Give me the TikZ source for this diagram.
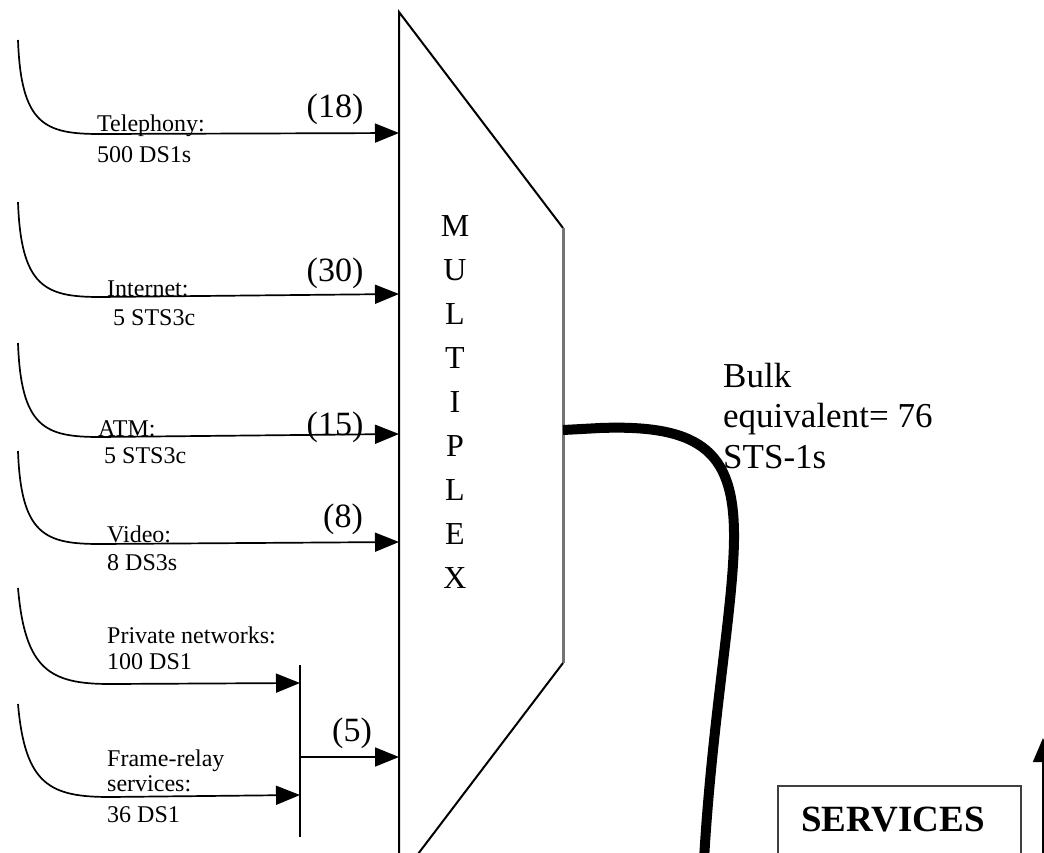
\documentclass[tikz,border=0pt]{standalone}
\usepackage{fontspec}
\setmainfont{Liberation Serif}
\usetikzlibrary{arrows.meta}
\tikzset{
  feed/.style={line width=1.7pt, -{Triangle[length=24pt,width=19pt]}},
  lbl/.style={anchor=base west, inner sep=0pt, font=\fontsize{24}{28}\selectfont},
  cnt/.style={inner sep=0pt, font=\fontsize{34}{38}\selectfont},
  muxletter/.style={inner sep=0pt, font=\fontsize{32}{36}\selectfont},
  muxedge/.style={line width=2pt},
  cable/.style={line width=10pt, line cap=butt},
  bulk/.style={anchor=base west, inner sep=0pt, font=\fontsize{35}{40.5}\selectfont},
  svcbox/.style={draw=black!75, line width=2pt},
}
\begin{document}
\begin{tikzpicture}[x=1pt,y=-1pt]
\useasboundingbox (0,0) rectangle (1044,852);
\clip (0,0) rectangle (1044,852);

% multiplexer
\coordinate (mtl) at (399,12);
\coordinate (mtr) at (563,228);
\coordinate (mbr) at (563,663);
\coordinate (mbl) at (399,879);
\draw[muxedge] (mbl) -- (mtl) -- (mtr);
\draw[line width=3pt, draw=black!55] (mtr) -- (mbr);
\draw[muxedge] (mbr) -- (mbl);
\foreach \l [count=\i] in {M,U,L,T,I,P,L,E,X}
  \node[muxletter] (m\i) at (455,{226+(\i-1)*44}) {\l};

% input points on the mux
\coordinate (in1) at (399,133);
\coordinate (in2) at (399,294);
\coordinate (in3) at (399,434);
\coordinate (in4) at (399,542);
\coordinate (in5) at (399,757);

% sources
\coordinate (s1) at (18,40);
\coordinate (s2) at (18,202);
\coordinate (s3) at (18,343);
\coordinate (s4) at (18,451);
\coordinate (s5) at (18,588);
\coordinate (s6) at (18,704);

% combining bar
\coordinate (bt) at (300,665);
\coordinate (bb) at (300,837);
\coordinate (bm) at (300,757);
\coordinate (b1) at (300,683);
\coordinate (b2) at (300,795);
\draw[line width=2pt] (bt) -- (bb);

\draw[feed] (s1) .. controls (21,125) and (45,134) .. (100,134) -- (in1);
\draw[feed] (s2) .. controls (21,287) and (45,297) .. (100,297) -- (in2);
\draw[feed] (s3) .. controls (21,428) and (45,437) .. (100,437) -- (in3);
\draw[feed] (s4) .. controls (21,535) and (45,544) .. (100,544) -- (in4);
\draw[feed] (s5) .. controls (25,670) and (50,684) .. (110,684) -- (b1);
\draw[feed] (s6) .. controls (25,785) and (50,797) .. (110,797) -- (b2);
\draw[feed] (bm) -- (in5);

% counts
\node[cnt] (c1) at (335,109) {(18)};
\node[cnt] (c2) at (335,273) {(30)};
\node[cnt] (c3) at (335,427) {(15)};
\node[cnt] (c4) at (343,519) {(8)};
\node[cnt] (c5) at (352,733) {(5)};

% labels
\node[lbl] (l1a) at (97,131) {Telephony:};
\node[lbl] (l1b) at (97,162) {500 DS1s};
\node[lbl] (l2a) at (107,296) {Internet:};
\node[lbl] (l2b) at (113,325) {5 STS3c};
\node[lbl] (l3a) at (98,436) {ATM:};
\node[lbl] (l3b) at (104,463) {5 STS3c};
\node[lbl] (l4a) at (107,542) {Video:};
\node[lbl] (l4b) at (107,570) {8 DS3s};
\node[lbl] (l5a) at (107,643) {Private networks:};
\node[lbl] (l5b) at (107,669) {100 DS1};
\node[lbl] (l6a) at (107,766) {Frame-relay};
\node[lbl] (l6b) at (107,791) {services:};
\node[lbl] (l6c) at (107,822) {36 DS1};

% output cable
\coordinate (out) at (563,430);
\coordinate (cend) at (704,860);
\draw[cable] (out) -- (600,428) .. controls (705,424) and (735,455) .. (734,540)
  .. controls (733,610) and (712,720) .. (cend);
\node[bulk] (bulk1) at (723,387) {Bulk};
\node[bulk] (bulk2) at (723,427) {equivalent= 76};
\node[bulk] (bulk3) at (723,468) {STS-1s};

% services box
\node[svcbox, minimum width=243pt, minimum height=120pt, anchor=north west, inner sep=0pt] (svc) at (777,785) {};
\node[inner sep=0pt, font=\fontsize{37}{40}\selectfont\bfseries] (svct) at (893,820) {SERVICES};
\coordinate (up0) at (1043,860);
\coordinate (up1) at (1043,738);
\draw[line width=1.8pt, -{Triangle[length=24pt,width=20pt]}] (up0) -- (up1);
\end{tikzpicture}
\end{document}
